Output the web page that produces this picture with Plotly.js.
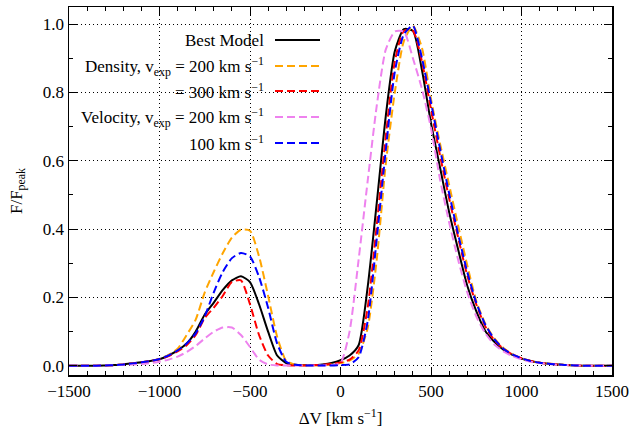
<!DOCTYPE html>
<html>
<head>
<meta charset="utf-8">
<script src="https://cdn.plot.ly/plotly-3.0.1.min.js"></script>
<style>html,body{margin:0;padding:0;background:#fff;}#chart{width:633px;height:432px;}</style>
</head>
<body>
<div id="chart"></div>
<script>
// Velocity grid (km/s), step 50 from -1500 to 1500
const velocity = [];
for (let v = -1500; v <= 1500; v += 50) velocity.push(v);

const seriesNames = [
  "Best Model",
  "Density, v<sub>exp</sub> = 200 km s<sup>\u22121</sup>",
  "= 300 km s<sup>\u22121</sup>",
  "Velocity, v<sub>exp</sub> = 200 km s<sup>\u22121</sup>",
  "100 km s<sup>\u22121</sup>"
];

//                 -1500 .. -1050 (10)                                 -1000 .. -550 (10)                                          -500 .. -50 (10)                                             0 .. 450 (10)                                         500 .. 950 (10)                                          1000 .. 1500 (11)
const bestModel = [0,0,0,0,0.001,0.002,0.004,0.007,0.010,0.014,  0.019,0.030,0.045,0.065,0.100,0.150,0.185,0.222,0.250,0.262,  0.245,0.180,0.100,0.030,0.008,0.003,0.002,0.002,0.004,0.008,  0.016,0.030,0.060,0.230,0.475,0.730,0.920,0.985,0.980,0.865,  0.710,0.580,0.450,0.340,0.235,0.160,0.102,0.070,0.047,0.032,  0.021,0.014,0.009,0.006,0.004,0.002,0.001,0,0,0,0];
const density200 = [0,0,0,0,0.001,0.002,0.004,0.007,0.010,0.014,  0.020,0.032,0.050,0.090,0.135,0.215,0.275,0.330,0.375,0.398,  0.395,0.320,0.205,0.085,0.015,0.003,0.001,0.001,0.002,0.004,  0.008,0.015,0.035,0.110,0.310,0.590,0.800,0.950,0.995,0.930,  0.780,0.650,0.530,0.410,0.295,0.190,0.123,0.080,0.052,0.034,  0.022,0.014,0.009,0.006,0.004,0.002,0.001,0,0,0,0];
const density300 = [0,0,0,0,0.001,0.002,0.004,0.007,0.010,0.014,  0.019,0.028,0.042,0.060,0.090,0.140,0.170,0.205,0.245,0.250,  0.180,0.090,0.030,0.005,0.002,0.001,0.001,0.002,0.003,0.005,  0.010,0.018,0.045,0.170,0.410,0.670,0.890,0.980,0.980,0.890,  0.750,0.615,0.490,0.375,0.265,0.180,0.115,0.075,0.050,0.033,  0.022,0.014,0.009,0.006,0.004,0.002,0.001,0,0,0,0];
const velocity200 = [0,0,0,0,0.001,0.002,0.003,0.004,0.005,0.008,  0.012,0.018,0.027,0.040,0.058,0.080,0.100,0.112,0.112,0.090,  0.055,0.018,0.004,0.001,0.001,0.001,0.001,0.001,0.001,0.002,  0.008,0.100,0.310,0.540,0.760,0.925,0.978,0.978,0.900,0.810,  0.695,0.545,0.420,0.310,0.215,0.145,0.095,0.062,0.042,0.028,  0.019,0.012,0.008,0.005,0.003,0.002,0.001,0,0,0,0];
const velocity100 = [0,0,0,0,0.001,0.002,0.004,0.007,0.010,0.014,  0.020,0.030,0.045,0.065,0.095,0.145,0.215,0.275,0.315,0.330,  0.320,0.260,0.170,0.065,0.012,0.003,0.001,0.001,0.001,0.001,  0.002,0.004,0.025,0.130,0.370,0.630,0.860,0.970,0.995,0.900,  0.770,0.635,0.505,0.385,0.275,0.185,0.120,0.078,0.050,0.033,  0.022,0.014,0.009,0.006,0.004,0.002,0.001,0,0,0,0];

const xTickVals = [-1500,-1000,-500,0,500,1000,1500];
const yTickVals = [0,0.2,0.4,0.6,0.8,1.0];

const seriesData = [bestModel, density200, density300, velocity200, velocity100];
const colors = ["#000000", "#FFA500", "#FF0000", "#EE82EE", "#0000FF"];
const dashes = ["solid", "8px,4px", "8px,4px", "8px,4px", "8px,4px"];

const traces = seriesData.map((ys, i) => ({
  x: velocity, y: ys, type: "scatter", mode: "lines",
  name: seriesNames[i],
  line: {color: colors[i], width: 2, dash: dashes[i], shape: "spline", smoothing: 0.6},
  showlegend: false, hoverinfo: "skip"
}));

const FAMILY = '"Liberation Serif", "Times New Roman", Times, serif';
const FS = 17;
const mkFont = () => ({family: FAMILY, size: FS, color: "#000"});

// Legend drawn manually: right-aligned text, sample line to the right
const legRowsPx = [40, 66, 91, 117, 143];
const plotL = 69, plotR = 612, plotT = 7, plotB = 375;
const px2paperX = p => (p - plotL) / (plotR - plotL);
const px2paperY = p => (plotB - p) / (plotB - plotT);
const annotations = [];
const shapes = [];
seriesNames.forEach((nm, i) => {
  annotations.push({
    xref: "paper", yref: "paper", x: px2paperX(266), y: px2paperY(legRowsPx[i]),
    xanchor: "right", yanchor: "middle", text: nm, showarrow: false,
    font: mkFont()
  });
  shapes.push({
    type: "line", xref: "paper", yref: "paper",
    x0: px2paperX(275), x1: px2paperX(320),
    y0: px2paperY(legRowsPx[i]), y1: px2paperY(legRowsPx[i]),
    line: {color: colors[i], width: 2, dash: dashes[i]}
  });
});

const layout = {
  width: 633, height: 432,
  margin: {l: plotL, r: 633 - plotR, t: plotT, b: 432 - plotB},
  paper_bgcolor: "#fff", plot_bgcolor: "#fff",
  font: mkFont(),
  showlegend: false,
  xaxis: {
    range: [-1500, 1500], tickvals: xTickVals,
    ticks: "inside", ticklen: 8, tickwidth: 1, tickcolor: "#000",
    minor: {dtick: 100, ticks: "inside", ticklen: 4, tickcolor: "#000", showgrid: false},
    showline: true, linecolor: "#000", linewidth: 1.5, mirror: "allticks",
    showgrid: true, gridcolor: "#000", griddash: "1px,3px", gridwidth: 1,
    zeroline: false, tickfont: mkFont(),
    title: {text: "\u0394V [km s<sup>\u22121</sup>]", font: mkFont(), standoff: 12}
  },
  yaxis: {
    range: [-0.027, 1.0498], tickvals: yTickVals, tickformat: ".1f",
    ticks: "inside", ticklen: 8, tickwidth: 1, tickcolor: "#000",
    minor: {dtick: 0.1, ticks: "inside", ticklen: 4, tickcolor: "#000", showgrid: false},
    showline: true, linecolor: "#000", linewidth: 1.5, mirror: "allticks",
    showgrid: true, gridcolor: "#000", griddash: "1px,3px", gridwidth: 1,
    zeroline: false, tickfont: mkFont(),
    title: {text: "F/F<sub>peak</sub>", font: mkFont(), standoff: 16}
  },
  annotations: annotations,
  shapes: shapes
};

Plotly.newPlot("chart", traces, layout, {staticPlot: true, displayModeBar: false});
</script>
</body>
</html>
